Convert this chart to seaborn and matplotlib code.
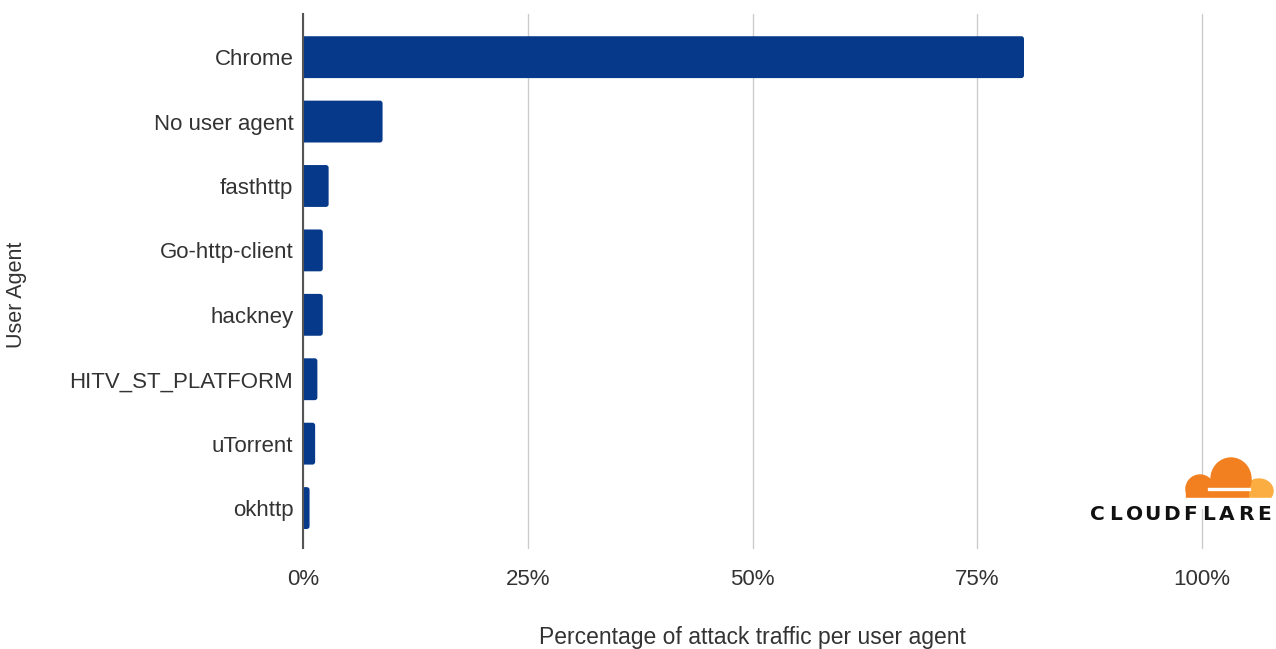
import matplotlib
matplotlib.use("Agg")
import matplotlib.pyplot as plt
import seaborn as sns
import pandas as pd
from matplotlib.patches import FancyBboxPatch, Ellipse, Rectangle
from matplotlib.ticker import FuncFormatter

sns.set_style("white")
plt.rcParams['font.family'] = ['Liberation Sans', 'DejaVu Sans']

agents = ['Chrome', 'No user agent', 'fasthttp', 'Go-http-client', 'hackney',
          'HITV_ST_PLATFORM', 'uTorrent', 'okhttp']
share = [80.2, 8.85, 2.85, 2.2, 2.2, 1.6, 1.35, 0.73]

bar_color = '#06398A'
text_color = '#333333'

df = pd.DataFrame({'agent': agents, 'share': share})

fig = plt.figure(figsize=(12.76, 6.49), dpi=100)
ax = fig.add_axes([303 / 1276, 1 - 548 / 649, (1202 - 303) / 1276, (548 - 14) / 649])

sns.barplot(data=df, x='share', y='agent', color=bar_color, orient='h',
            width=0.65, saturation=1, ax=ax, zorder=3)

ax.set_xlim(0, 100)
ax.set_ylim(7.62, -0.67)

# swap the square bars for ones with rounded ends
px_x = ax.bbox.width / 100
px_y = ax.bbox.height / (7.62 + 0.67)
aspect = px_x / px_y
for p in list(ax.patches):
    x0, y0, w, h = p.get_x(), p.get_y(), p.get_width(), p.get_height()
    p.remove()
    ax.add_patch(FancyBboxPatch((x0 - 0.5, y0), w + 0.5, h,
                                boxstyle='round,pad=0,rounding_size=0.3',
                                mutation_aspect=aspect, fc=bar_color, ec='none',
                                zorder=3))

ax.set_xticks([0, 25, 50, 75, 100])
ax.xaxis.set_major_formatter(FuncFormatter(lambda v, _: f'{v:.0f}%'))
ax.grid(axis='x', color='#cccccc', linewidth=1, zorder=0)
for gl in ax.get_xgridlines():
    gl.set_clip_on(False)
ax.grid(axis='y', visible=False)
for s in ['top', 'right', 'bottom']:
    ax.spines[s].set_visible(False)
ax.spines['left'].set_color('#555555')
ax.spines['left'].set_linewidth(1.5)
ax.spines['left'].set_zorder(4)
ax.tick_params(axis='both', length=0, labelsize=16, colors=text_color)
ax.tick_params(axis='y', pad=7)
ax.tick_params(axis='x', pad=15)

ax.set_xlabel('Percentage of attack traffic per user agent', fontsize=16.5,
              color=text_color, labelpad=26)
ax.set_ylabel('')
fig.text(17 / 1276, 1 - 295 / 649, 'User Agent', fontsize=15.5, color=text_color,
         rotation=90, ha='center', va='center')

# Cloudflare logo, drawn roughly
W, H = 1276, 649
def fx(x): return x / W
def fy(y): return 1 - y / H
orange = '#F38020'
light = '#FBAD41'
fig.patches.append(Ellipse((fx(1259), fy(491)), 28 / W, 24 / H, color=light,
                           transform=fig.transFigure, zorder=5))
for cx, cy, rw, rh in [(1231, 479, 40, 42), (1200, 489, 28, 28)]:
    fig.patches.append(Ellipse((fx(cx), fy(cy)), rw / W, rh / H, color=orange,
                               transform=fig.transFigure, zorder=6))
fig.patches.append(Rectangle((fx(1186), fy(498)), 62 / W, 12 / H, color=orange,
                             transform=fig.transFigure, zorder=6))
fig.patches.append(Rectangle((fx(1208), fy(490)), 42 / W, 2 / H, color='white',
                             transform=fig.transFigure, zorder=7))
fig.patches.append(Rectangle((fx(1180), fy(508)), 96 / W, 10 / H, color='white',
                             transform=fig.transFigure, zorder=7))
for i, ch in enumerate('CLOUDFLARE'):
    fig.text(fx(1097 + i * 18.6), fy(514), ch, fontsize=14.5, fontweight='heavy',
             color='#111111', ha='center', va='center', family=['DejaVu Sans'],
             zorder=8)

fig.savefig('out.png', dpi=100)
